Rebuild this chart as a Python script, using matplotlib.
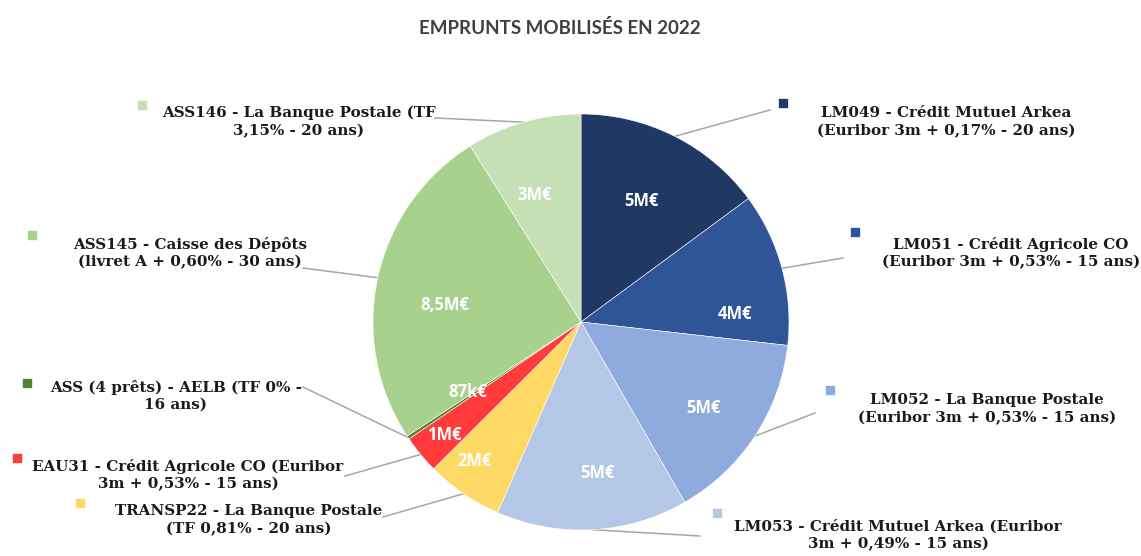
import numpy as np
import matplotlib
matplotlib.use("Agg")
import matplotlib.pyplot as plt

# Data (amounts in M EUR)
names = [
    "LM049 - Crédit Mutuel Arkea\n(Euribor 3m + 0,17% - 20 ans)",
    "LM051 - Crédit Agricole CO\n(Euribor 3m + 0,53% - 15 ans)",
    "LM052 - La Banque Postale\n(Euribor 3m + 0,53% - 15 ans)",
    "LM053 - Crédit Mutuel Arkea (Euribor\n3m + 0,49% - 15 ans)",
    "TRANSP22 - La Banque Postale\n(TF 0,81% - 20 ans)",
    "EAU31 - Crédit Agricole CO (Euribor\n3m + 0,53% - 15 ans)",
    "ASS (4 prêts) - AELB (TF 0% -\n16 ans)",
    "ASS145 - Caisse des Dépôts\n(livret A + 0,60% - 30 ans)",
    "ASS146 - La Banque Postale (TF\n3,15% - 20 ans)",
]
amounts = [5, 4, 5, 5, 2, 1, 0.087, 8.5, 3]
value_labels = ["5M€", "4M€", "5M€", "5M€", "2M€", "1M€", "87k€", "8,5M€", "3M€"]
colors = ["#1f3864", "#2f5597", "#8faadc", "#b4c7e7", "#ffd966",
          "#ff3b3b", "#548235", "#a9d18e", "#c5e0b4"]

# layout (pixels, y measured from top)
W, H = 1141, 556
cx, cy, R = 581, 322, 208
# value label: radius fraction and angle shift (deg)
val_r = [0.65, 0.74, 0.72, 0.73, 0.84, 0.85, 0.64, 0.66, 0.65]
val_dth = [0, -12, -2, 3, -3, 0, -2, 5, 4]
# category labels: text block centre, marker position, leader line start
lab_x = [946, 1011, 987, 898, 249, 188, 176, 190, 299]
lab_y = [122, 253, 409, 535, 520, 475, 396, 253, 122]
mark_xy = [(783, 103), (855, 232), (830, 390), (717, 513), (80, 503),
           (17, 458), (27, 383), (32, 235), (142, 105)]
line_start = [(770, 110), (843, 258), (815, 413), (700, 536), (383, 517),
              (345, 476), (303, 387), (303, 268), (435, 118)]

fig = plt.figure(figsize=(W / 100, H / 100), dpi=100)
ax = fig.add_axes([0, 0, 1, 1])

wedges, _ = ax.pie(amounts, colors=colors, startangle=90, counterclock=False,
                   center=(cx, H - cy), radius=R,
                   wedgeprops=dict(edgecolor="white", linewidth=0.4))
ax.set_xlim(0, W)
ax.set_ylim(0, H)
ax.set_aspect("equal")
ax.axis("off")

for i, w in enumerate(wedges):
    mid = np.deg2rad((w.theta1 + w.theta2) / 2)
    th = mid + np.deg2rad(val_dth[i])
    ax.text(cx + R * val_r[i] * np.cos(th), H - cy + R * val_r[i] * np.sin(th),
            value_labels[i], color="white", fontsize=12, fontweight="bold",
            family="Open Sans", ha="center", va="center")

    # leader line from label to pie edge
    ex, ey = cx + R * np.cos(mid), H - cy + R * np.sin(mid)
    sx, sy = line_start[i]
    ax.plot([sx, ex], [H - sy, ey], color="#a6a6a6", lw=1.1, zorder=0)

    ax.text(lab_x[i], H - lab_y[i], names[i], ha="center", va="center",
            multialignment="center", fontsize=10.9, fontweight="bold",
            family="DejaVu Serif", color="#1a1a1a", linespacing=1.3)
    mx, my = mark_xy[i]
    ax.scatter([mx], [H - my], marker="s", s=30, color=colors[i], zorder=3)

ax.text(560, H - 28, "EMPRUNTS MOBILISÉS EN 2022", ha="center", va="center",
        fontsize=13.5, fontweight="bold", family="Lato", color="#404040")

fig.savefig("out.png", dpi=100)
